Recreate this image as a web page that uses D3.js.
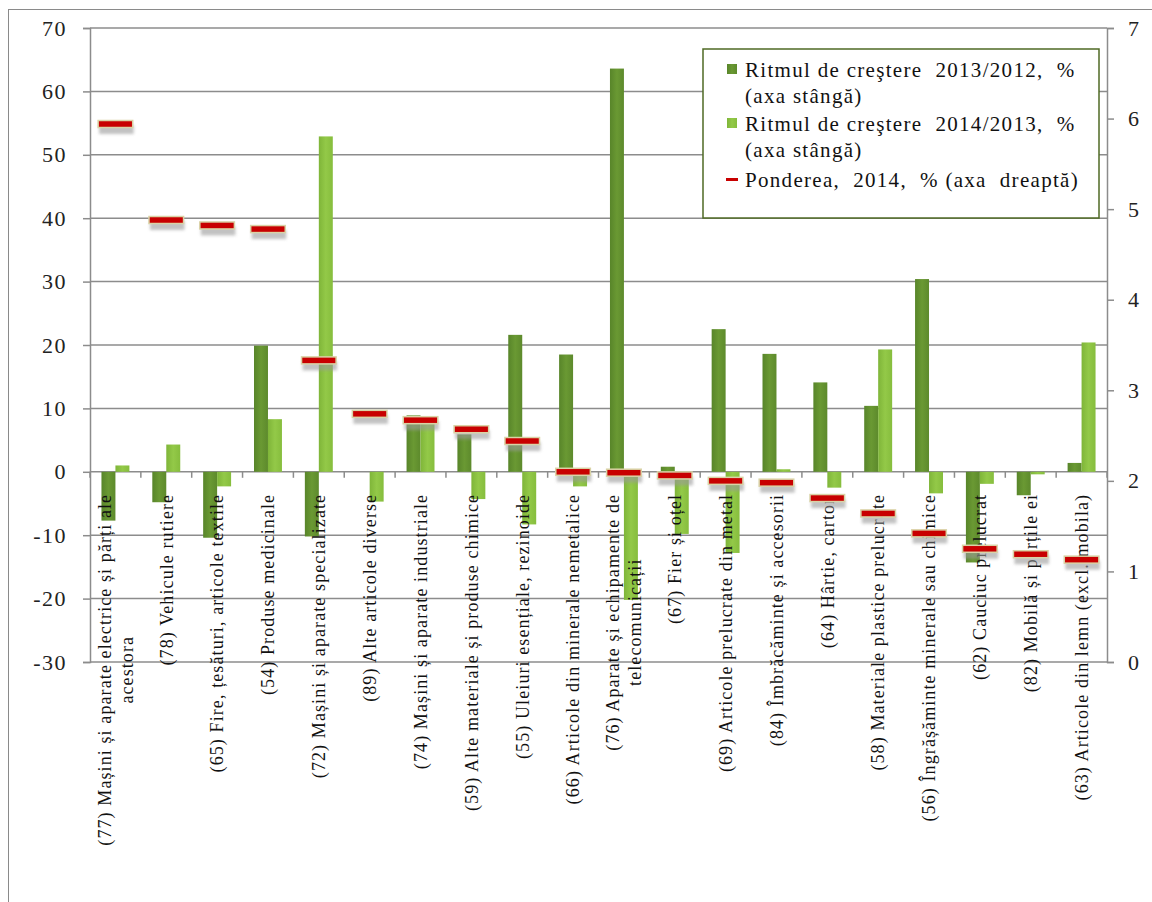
<!DOCTYPE html>
<html>
<head>
<meta charset="utf-8">
<script src="https://cdn.jsdelivr.net/npm/d3@7"></script>
<style>
  body { margin: 0; background: #fff; }
  svg { display: block; }
  svg text { font-family: "Liberation Serif", "DejaVu Serif", serif; }
</style>
</head>
<body>
<div id="chart"></div>
<script>
// categories (line breaks as in the original labels)
var categories = [
    "(77) Mașini și aparate electrice și părți ale\nacestora",
    "(78) Vehicule rutiere",
    "(65) Fire, țesături, articole textile",
    "(54) Produse medicinale",
    "(72) Mașini și aparate specializate",
    "(89) Alte articole diverse",
    "(74) Mașini și aparate industriale",
    "(59) Alte materiale și produse chimice",
    "(55) Uleiuri esențiale, rezinoide",
    "(66) Articole din minerale nemetalice",
    "(76) Aparate și echipamente de\ntelecomunicații",
    "(67) Fier și oțel",
    "(69) Articole prelucrate din metal",
    "(84) Îmbrăcăminte și accesorii",
    "(64) Hârtie, carton",
    "(58) Materiale plastice prelucrate",
    "(56) Îngrășăminte minerale sau chimice",
    "(62) Cauciuc prelucrat",
    "(82) Mobilă și părțile ei",
    "(63) Articole din lemn (excl. mobila)"
];
var growth2013 = [-7.7, -4.8, -10.4, 19.9, -10.2, 0, 8.9, 5.9, 21.6, 18.5, 63.6, 0.8, 22.5, 18.6, 14.1, 10.4, 30.4, -14.3, -3.7, 1.4];
var growth2014 = [1.0, 4.3, -2.3, 8.3, 52.9, -4.7, 8.7, -4.3, -8.3, -2.3, -20.2, -9.8, -12.8, 0.4, -2.5, 19.3, -3.4, -1.9, -0.4, 20.4];
var share2014 = [5.94, 4.88, 4.82, 4.78, 3.33, 2.74, 2.67, 2.57, 2.44, 2.10, 2.09, 2.06, 2.00, 1.98, 1.81, 1.64, 1.42, 1.25, 1.19, 1.13];
var leftTicks = [-30, -20, -10, 0, 10, 20, 30, 40, 50, 60, 70];
var rightTicks = [0, 1, 2, 3, 4, 5, 6, 7];
var legendLabels = [
    ["Ritmul de creştere  2013/2012,  %", "(axa stângă)"],
    ["Ritmul de creştere  2014/2013,  %", "(axa stângă)"],
    ["Ponderea,  2014,  % (axa  dreaptă)"]
];

var W = 1152, H = 902;
var plot = { left: 90, right: 1107, top: 28, bottom: 662 };
var serif = "'Liberation Serif', 'DejaVu Serif', serif";

var svg = d3.select("#chart").append("svg")
    .attr("width", W)
    .attr("height", H);

var defs = svg.append("defs");
var gDark = defs.append("linearGradient").attr("id", "gDark")
    .attr("x1", 0).attr("x2", 1).attr("y1", 0).attr("y2", 0);
gDark.append("stop").attr("offset", "0%").attr("stop-color", "#58852a");
gDark.append("stop").attr("offset", "50%").attr("stop-color", "#6a9933");
gDark.append("stop").attr("offset", "100%").attr("stop-color", "#5d8a2c");
var gLight = defs.append("linearGradient").attr("id", "gLight")
    .attr("x1", 0).attr("x2", 1).attr("y1", 0).attr("y2", 0);
gLight.append("stop").attr("offset", "0%").attr("stop-color", "#7fb539");
gLight.append("stop").attr("offset", "50%").attr("stop-color", "#93c948");
gLight.append("stop").attr("offset", "100%").attr("stop-color", "#86bd3d");
var blur = defs.append("filter").attr("id", "shadow")
    .attr("x", "-20%").attr("y", "-50%").attr("width", "140%").attr("height", "250%");
blur.append("feGaussianBlur").attr("stdDeviation", 1.6);

// outer frame
svg.append("rect")
    .attr("x", 8.5).attr("y", 9.5)
    .attr("width", W).attr("height", H)
    .attr("fill", "none")
    .attr("stroke", "#8a8a8a")
    .attr("stroke-width", 1);

// scales
var x = d3.scaleBand()
    .domain(d3.range(categories.length))
    .range([plot.left, plot.right]);
var x1 = d3.scaleBand()
    .domain([0, 1])
    .range([0, x.bandwidth()])
    .paddingOuter(0.82);
var yL = d3.scaleLinear().domain([-30, 70]).range([plot.bottom, plot.top]);
var yR = d3.scaleLinear().domain([0, 7]).range([plot.bottom, plot.top]);

// gridlines
svg.append("g")
    .selectAll("line")
    .data(leftTicks)
    .enter()
    .append("line")
    .attr("x1", plot.left).attr("x2", plot.right)
    .attr("y1", d => yL(d)).attr("y2", d => yL(d))
    .attr("stroke", "#8c8c8c")
    .attr("stroke-width", 1.5);

// left axis
var axL = svg.append("g")
    .attr("transform", "translate(" + plot.left + ",0)")
    .call(d3.axisLeft(yL).tickValues(leftTicks).tickSize(7).tickPadding(16)
        .tickFormat(d => d < 0 ? "-" + Math.abs(d) : d));
// right axis
var axR = svg.append("g")
    .attr("transform", "translate(" + plot.right + ",0)")
    .call(d3.axisRight(yR).tickValues(rightTicks).tickSize(7).tickPadding(14)
        .tickFormat(d3.format("d")));
[axL, axR].forEach(function (a) {
    a.attr("font-family", serif).attr("font-size", 22);
    a.select(".domain").attr("stroke", "#8c8c8c").attr("stroke-width", 1.5);
    a.selectAll(".tick line").attr("stroke", "#8c8c8c").attr("stroke-width", 1.5);
    a.selectAll("text")
        .style("font-family", serif)
        .style("font-size", "22px")
        .attr("fill", "#222");
});
axL.selectAll("text").attr("letter-spacing", 1.5);

// category tick marks on the zero line
svg.append("g")
    .selectAll("line")
    .data(d3.range(categories.length + 1))
    .enter()
    .append("line")
    .attr("x1", d => plot.left + d * x.step())
    .attr("x2", d => plot.left + d * x.step())
    .attr("y1", yL(0)).attr("y2", yL(0) + 6)
    .attr("stroke", "#8c8c8c")
    .attr("stroke-width", 1.5);

// bars
var groups = svg.append("g")
    .selectAll(".cat")
    .data(categories.map(function (c, i) {
        return { i: i, v: [growth2013[i], growth2014[i]], s: share2014[i] };
    }))
    .enter()
    .append("g")
    .attr("class", "cat")
    .attr("transform", d => "translate(" + x(d.i) + ",0)");

groups.selectAll("rect")
    .data(d => d.v.map(function (v, k) { return { k: k, v: v }; }))
    .enter()
    .append("rect")
    .attr("x", d => x1(d.k))
    .attr("width", x1.bandwidth())
    .attr("y", d => yL(Math.max(0, d.v)))
    .attr("height", d => Math.abs(yL(d.v) - yL(0)))
    .attr("fill", d => d.k === 0 ? "url(#gDark)" : "url(#gLight)");

// category labels (drawn next to zero line, like the original)
var labels = svg.append("g")
    .selectAll(".lab")
    .data(categories.map(function (c, i) { return { i: i, lines: c.split("\n") }; }))
    .enter()
    .append("g")
    .attr("class", "lab")
    .attr("transform", d => "translate(" + (x(d.i) + x.bandwidth() / 2) + "," + (yL(0) + 22) + ") rotate(-90)");

labels.each(function (d) {
    var g = d3.select(this);
    var lh = 22;
    var off = -(d.lines.length - 1) * lh / 2;
    var first = g.append("text")
        .attr("x", 0)
        .attr("y", off)
        .attr("dy", "0.35em")
        .attr("text-anchor", "end")
        .style("font-size", "18px")
        .attr("letter-spacing", 1.1)
        .attr("fill", "#111")
        .text(d.lines[0]);
    var L = first.node().getComputedTextLength();
    for (var k = 1; k < d.lines.length; k++) {
        g.append("text")
            .attr("x", -L / 2)
            .attr("y", off + k * lh)
            .attr("dy", "0.35em")
            .attr("text-anchor", "middle")
            .style("font-size", "18px")
            .attr("letter-spacing", 1.1)
            .attr("fill", "#111")
            .text(d.lines[k]);
    }
});

// share markers (right axis)
var mw = x.bandwidth() * 0.68;
var marks = svg.append("g")
    .selectAll(".mk")
    .data(share2014)
    .enter()
    .append("g")
    .attr("class", "mk");
marks.append("rect")
    .attr("x", (d, i) => x(i) + (x.bandwidth() - mw) / 2 + 1)
    .attr("y", d => yR(d) + 1)
    .attr("width", mw)
    .attr("height", 9)
    .attr("fill", "#9a9a9a")
    .attr("opacity", 0.6)
    .attr("filter", "url(#shadow)");
marks.append("rect")
    .attr("x", (d, i) => x(i) + (x.bandwidth() - mw) / 2)
    .attr("y", d => yR(d) - 3.5)
    .attr("width", mw)
    .attr("height", 7)
    .attr("fill", "#c80000")
    .attr("stroke", "#d9d3a6")
    .attr("stroke-width", 1.5);

// legend
var lg = svg.append("g").attr("transform", "translate(703,49)");
lg.append("rect")
    .attr("width", 396).attr("height", 169)
    .attr("fill", "#fff")
    .attr("stroke", "#4f6a24")
    .attr("stroke-width", 1.5);
var rowY = [21, 75, 131];
legendLabels.forEach(function (lines, i) {
    if (i < 2) {
        lg.append("rect")
            .attr("x", 24).attr("y", rowY[i] - 6)
            .attr("width", 10).attr("height", 10)
            .attr("fill", i === 0 ? "url(#gDark)" : "url(#gLight)");
    } else {
        lg.append("rect")
            .attr("x", 23).attr("y", rowY[i] - 2)
            .attr("width", 12).attr("height", 3)
            .attr("fill", "#c80000");
    }
    lines.forEach(function (t, k) {
        lg.append("text")
            .attr("x", 42)
            .attr("y", rowY[i] + k * 26)
            .attr("dy", "0.35em")
            .style("font-family", serif)
            .style("font-size", "21px")
            .style("white-space", "pre")
            .attr("letter-spacing", 1.3)
            .attr("fill", "#111")
            .text(t);
    });
});
</script>
</body>
</html>
